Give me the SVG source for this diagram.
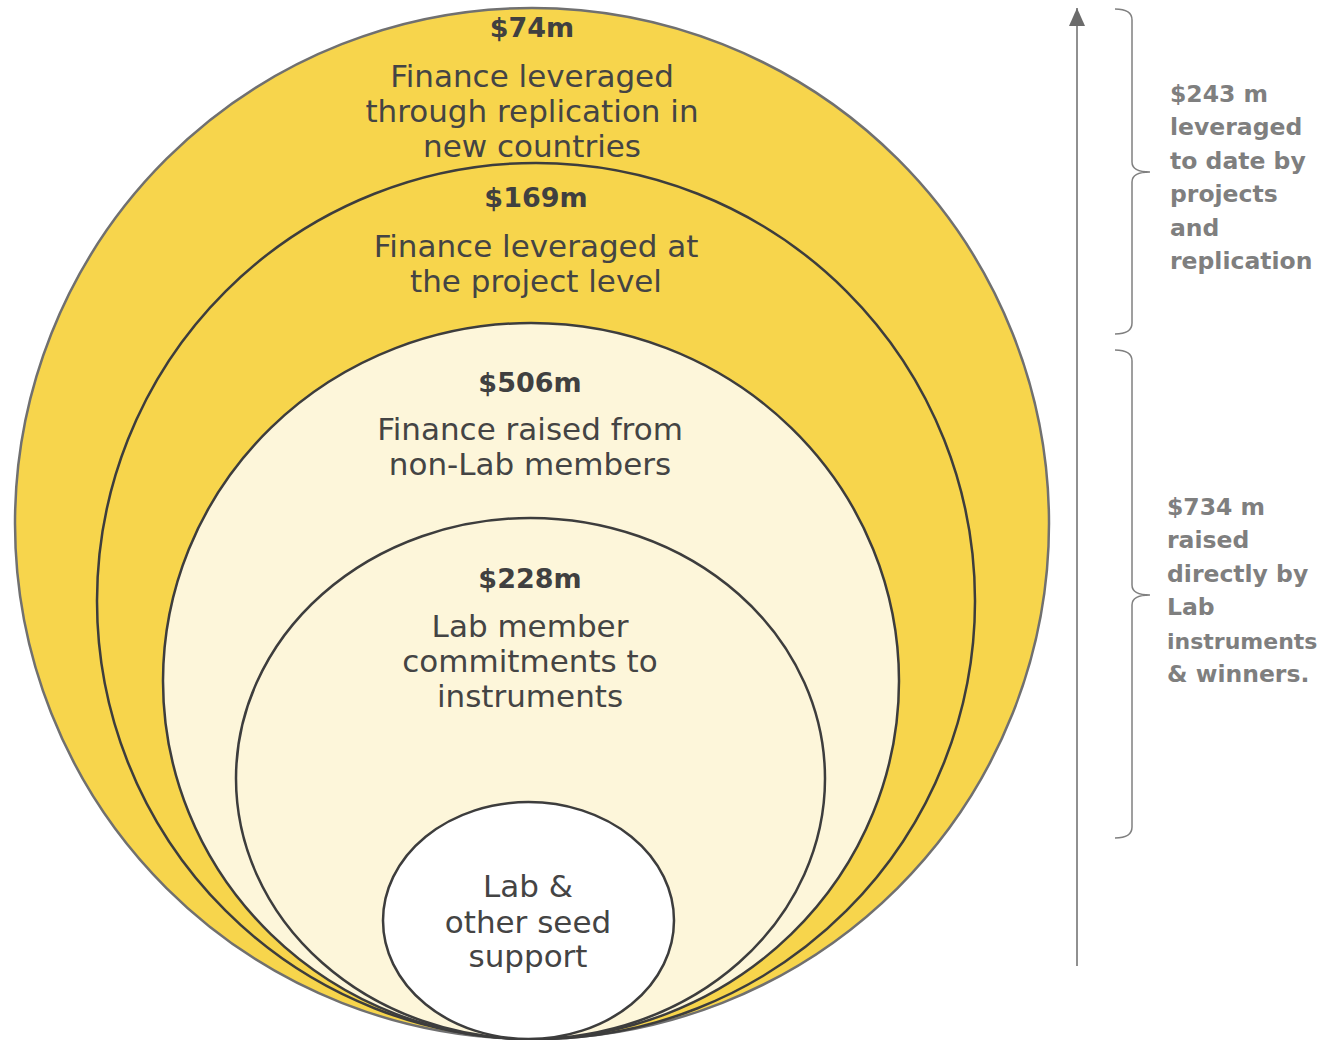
<svg xmlns="http://www.w3.org/2000/svg" width="1324" height="1040" viewBox="0 0 1324 1040">
<style>
.ring{stroke:#3d3d3d;stroke-width:2.5}
.outer{stroke:#707070;stroke-width:2.5}
.t{font-family:"DejaVu Sans","Liberation Sans",sans-serif;fill:#444444;text-anchor:middle;font-size:31px}
.b{font-weight:bold;font-size:27px;fill:#404040}
.side{font-family:"DejaVu Sans","Liberation Sans",sans-serif;fill:#7f7f7f;font-weight:bold;font-size:23.5px}
.brace{fill:none;stroke:#808080;stroke-width:1.5}
</style>
<defs>
<marker id="ah" viewBox="0 0 18 16" refX="18" refY="8" markerWidth="18" markerHeight="16" markerUnits="userSpaceOnUse" orient="auto">
<path d="M0,0 L18,8 L0,16 Z" fill="#6b6b6b"/>
</marker>
</defs>
<rect width="1324" height="1040" fill="#ffffff"/>
<g id="ring-74m">
<ellipse class="outer" cx="532" cy="523.5" rx="517" ry="515.5" fill="#F7D54C"/>
<text class="t b" x="532" y="37">$74m</text>
<text class="t" x="532" y="87">Finance leveraged</text>
<text class="t" x="532" y="122">through replication in</text>
<text class="t" x="532" y="157">new countries</text>
</g>
<g id="ring-169m">
<ellipse class="ring" cx="536" cy="601" rx="439" ry="438" fill="#F7D54C"/>
<text class="t b" x="536" y="207">$169m</text>
<text class="t" x="536" y="257">Finance leveraged at</text>
<text class="t" x="536" y="292">the project level</text>
</g>
<g id="ring-506m">
<ellipse class="ring" cx="531" cy="681" rx="368" ry="358" fill="#FDF6DA"/>
<text class="t b" x="530" y="392">$506m</text>
<text class="t" x="530" y="440">Finance raised from</text>
<text class="t" x="530" y="475">non-Lab members</text>
</g>
<g id="ring-228m">
<ellipse class="ring" cx="530.5" cy="778.5" rx="294.5" ry="260.5" fill="#FDF6DA"/>
<text class="t b" x="530" y="588">$228m</text>
<text class="t" x="530" y="637">Lab member</text>
<text class="t" x="530" y="672">commitments to</text>
<text class="t" x="530" y="707">instruments</text>
</g>
<g id="seed">
<ellipse class="ring" cx="528.5" cy="920.5" rx="145.5" ry="118.5" fill="#ffffff"/>
<text class="t" x="528" y="897">Lab &amp;</text>
<text class="t" x="528" y="933">other seed</text>
<text class="t" x="528" y="967">support</text>
</g>
<g id="connectors">
<line x1="1077" y1="966" x2="1077" y2="8" stroke="#6b6b6b" stroke-width="1.5" marker-end="url(#ah)"/>
<path class="brace" d="M1115,9 Q1132,9 1132,20 L1132,162 Q1132,172 1150,172 Q1132,172 1132,182 L1132,323 Q1132,334 1115,334"/>
<path class="brace" d="M1115,350 Q1132,350 1132,361 L1132,585 Q1132,595 1150,595 Q1132,595 1132,605 L1132,827 Q1132,838 1115,838"/>
</g>
<g id="label-243m">
<text class="side" x="1170" y="102">$243 m</text>
<text class="side" x="1170" y="135.4">leveraged</text>
<text class="side" x="1170" y="168.8">to date by</text>
<text class="side" x="1170" y="202.2">projects</text>
<text class="side" x="1170" y="235.6">and</text>
<text class="side" x="1170" y="269">replication</text>
</g>
<g id="label-734m">
<text class="side" x="1167" y="515">$734 m</text>
<text class="side" x="1167" y="548.4">raised</text>
<text class="side" x="1167" y="581.8">directly by</text>
<text class="side" x="1167" y="615.2">Lab</text>
<text class="side" x="1167" y="648.6" style="font-size:22px">instruments</text>
<text class="side" x="1167" y="682">&amp; winners.</text>
</g>
</svg>
